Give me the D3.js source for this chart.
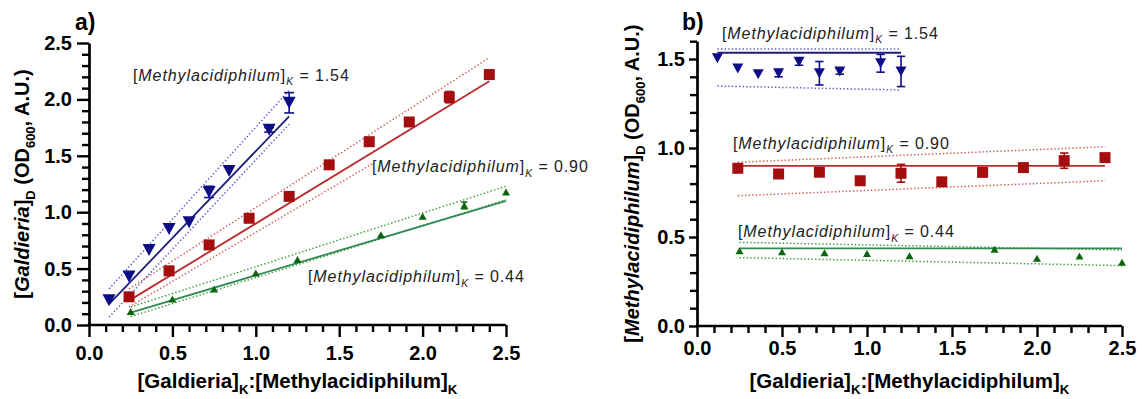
<!DOCTYPE html>
<html><head><meta charset="utf-8">
<script src="https://cdn.jsdelivr.net/npm/d3@7"></script>
<style>
body{margin:0;background:#fff;}
svg{display:block;font-family:"Liberation Sans",Arial,sans-serif;}
</style></head><body>
<svg id="chart" width="1142" height="399"></svg>
<script>
// Galdieria : Methylacidiphilum inoculation ratios for each Methylacidiphilum level
const ratioBlue  = [0.12, 0.24, 0.36, 0.48, 0.60, 0.72, 0.84, 1.08, 1.20];
const ratioRed   = [0.24, 0.48, 0.72, 0.96, 1.20, 1.44, 1.68, 1.92, 2.16, 2.40];
const ratioGreen = [0.25, 0.50, 0.75, 1.00, 1.25, 1.75, 2.00, 2.25, 2.50];

// a) Galdieria density at day D
const galBlue     = [0.22, 0.43, 0.665, 0.85, 0.91, 1.18, 1.365, 1.73, 1.97];
const galBlueErr  = [0, 0, 0, 0, 0, 0.05, 0, 0.02, 0.09];
const galRed      = [0.25, 0.48, 0.71, 0.946, 1.14, 1.42, 1.625, 1.80, 2.02, 2.22];
const galRedErr   = [0, 0, 0, 0, 0.03, 0, 0, 0.02, 0.05, 0.04];
const galGreen    = [0.12, 0.23, 0.32, 0.46, 0.58, 0.80, 0.965, 1.06, 1.18];
const galGreenErr = [0, 0, 0, 0, 0, 0, 0, 0.03, 0];

// b) Methylacidiphilum density at day D
const metBlue     = [1.504, 1.447, 1.414, 1.42, 1.485, 1.42, 1.43, 1.476, 1.43];
const metBlueErr  = [0, 0, 0, 0.02, 0.02, 0.066, 0.015, 0.05, 0.085];
const metRed      = [0.886, 0.854, 0.864, 0.816, 0.858, 0.81, 0.863, 0.89, 0.929, 0.946];
const metRedErr   = [0, 0, 0, 0, 0.05, 0.02, 0, 0.015, 0.043, 0];
const metGreen    = [0.423, 0.417, 0.412, 0.408, 0.395, 0.431, 0.38, 0.393, 0.358];
const metGreenErr = [0, 0, 0, 0, 0, 0, 0, 0, 0];

// model line (fit) and band (hi / lo) segments: [x0, y0, x1, y1]
const lineBlueA  = {fit: [0.12, 0.185, 1.20, 1.85], hi: [0.12, 0.32, 1.20, 2.08], lo: [0.12, 0.07, 1.20, 1.78]};
const lineRedA   = {fit: [0.24, 0.216, 2.40, 2.16], hi: [0.24, 0.32, 2.40, 2.37], lo: [0.24, 0.16, 1.70, 1.43]};
const lineGreenA = {fit: [0.25, 0.11, 2.50, 1.10],  hi: [0.25, 0.16, 2.50, 1.23], lo: [0.25, 0.075, 2.50, 1.11]};
const lineBlueB  = {fit: [0.12, 1.535, 1.20, 1.535], hi: [0.12, 1.556, 1.20, 1.556], lo: [0.12, 1.348, 1.20, 1.326]};
const lineRedB   = {fit: [0.24, 0.90, 2.40, 0.90],   hi: [0.24, 0.92, 2.40, 1.007],  lo: [0.24, 0.732, 2.40, 0.816]};
const lineGreenB = {fit: [0.25, 0.436, 2.50, 0.436], hi: [0.25, 0.47, 2.50, 0.427],  lo: [0.25, 0.384, 2.50, 0.339]};

const kLabels = ["1.54", "0.90", "0.44"];
const xTicks = [0, 0.5, 1.0, 1.5, 2.0, 2.5];
const yTicksA = [0, 0.5, 1.0, 1.5, 2.0, 2.5];
const yTicksB = [0, 0.5, 1.0, 1.5];

const svg = d3.select("#chart");

const style = {
  blue:  {mark: "#0d0d86", line: "#1e1e7c", band: "#5c5cc8", shape: "down"},
  red:   {mark: "#a30f0f", line: "#bb2b2b", band: "#d15a5a", shape: "square"},
  green: {mark: "#0c650c", line: "#2f8a52", band: "#3c9a3c", shape: "up"}
};

function rich(text, parts, size) {
  const sub = size * 0.65, shift = size * 0.3;
  let down = false;
  parts.forEach(p => {
    const ts = text.append("tspan").text(p.t);
    if (p.i) ts.attr("font-style", "italic");
    if (p.sub) {
      ts.attr("font-size", sub).attr("dy", down ? 0 : shift);
      down = true;
    } else {
      ts.attr("dy", down ? -shift : 0);
      down = false;
    }
  });
}

function markerPath(shape, w, h) {
  const p = d3.path();
  if (shape === "down") {
    p.moveTo(-w / 2, -h / 2); p.lineTo(w / 2, -h / 2); p.lineTo(0, h / 2); p.closePath();
  } else if (shape === "up") {
    p.moveTo(-w / 2, h / 2); p.lineTo(w / 2, h / 2); p.lineTo(0, -h / 2); p.closePath();
  } else {
    p.rect(-w / 2, -h / 2, w, h);
  }
  return p.toString();
}

function drawPanel(cfg) {
  const g = svg.append("g");
  const x = d3.scaleLinear().domain([0, 2.5]).range(cfg.xRange);
  const y = d3.scaleLinear().domain([0, cfg.yMax]).range(cfg.yRange);

  // model lines and bands
  cfg.series.forEach(s => {
    const st = style[s.key];
    const L = s.line;
    [["hi", true], ["lo", true], ["fit", false]].forEach(([k, dotted]) => {
      const seg = L[k];
      g.append("line")
        .attr("x1", x(seg[0])).attr("y1", y(seg[1]))
        .attr("x2", x(seg[2])).attr("y2", y(seg[3]))
        .attr("stroke", dotted ? st.band : st.line)
        .attr("stroke-width", dotted ? 1.5 : 1.8)
        .attr("stroke-dasharray", dotted ? "1.4,2.2" : null);
    });
  });

  // error bars and markers
  cfg.series.forEach(s => {
    const st = style[s.key];
    const pts = s.x.map((v, i) => ({x: v, y: s.y[i], e: s.err[i]}));
    const eg = g.append("g").attr("stroke", st.mark).attr("stroke-width", 1.6);
    pts.filter(d => d.e > 0).forEach(d => {
      const cx = x(d.x), cw = s.w * 0.38;
      eg.append("line").attr("x1", cx).attr("x2", cx).attr("y1", y(d.y - d.e)).attr("y2", y(d.y + d.e));
      eg.append("line").attr("x1", cx - cw).attr("x2", cx + cw).attr("y1", y(d.y + d.e)).attr("y2", y(d.y + d.e));
      eg.append("line").attr("x1", cx - cw).attr("x2", cx + cw).attr("y1", y(d.y - d.e)).attr("y2", y(d.y - d.e));
    });
    g.append("g").selectAll("path").data(pts).join("path")
      .attr("d", markerPath(st.shape, s.w, s.h))
      .attr("transform", d => `translate(${x(d.x)},${y(d.y)})`)
      .attr("fill", st.mark);
  });

  // axes
  const yMinor = d3.range(1, Math.round(cfg.yMax * 10) + 1).map(v => v / 10).filter(v => Math.abs(v * 2 - Math.round(v * 2)) > 1e-6);
  const xMinor = d3.range(1, 26).map(v => v / 10).filter(v => Math.abs(v * 2 - Math.round(v * 2)) > 1e-6);
  const fmt = d3.format(".1f");

  const ya = g.append("g").attr("transform", `translate(${x(0)},0)`)
    .call(d3.axisLeft(y).tickValues(cfg.yTicks).tickFormat(fmt).tickSize(cfg.yMajor).tickSizeOuter(0).tickPadding(cfg.yPad));
  const ym = g.append("g").attr("transform", `translate(${x(0)},0)`)
    .call(d3.axisLeft(y).tickValues(yMinor).tickFormat("").tickSize(cfg.yMinorLen).tickSizeOuter(0));
  const xa = g.append("g").attr("transform", `translate(0,${y(0)})`)
    .call(d3.axisBottom(x).tickValues(xTicks).tickFormat(fmt).tickSize(cfg.xMajor).tickSizeOuter(0).tickPadding(cfg.xPad));
  const xm = g.append("g").attr("transform", `translate(0,${y(0)})`)
    .call(d3.axisBottom(x).tickValues(xMinor).tickFormat("").tickSize(cfg.xMinorLen).tickSizeOuter(0));
  [ya, ym, xa, xm].forEach(a => {
    a.selectAll("path.domain").attr("stroke", "#000").attr("stroke-width", 2.7);
    a.selectAll(".tick line").attr("stroke", "#000").attr("stroke-width", 2.4);
    a.selectAll(".tick text").attr("fill", "#000").attr("font-size", 20).attr("font-weight", "bold")
      .attr("font-family", "'Liberation Sans', Arial, sans-serif");
  });
  ym.select("path.domain").remove();
  xm.select("path.domain").remove();
  // horizontal axis line runs from the vertical axis across the full range
  xa.select("path.domain").attr("d", `M${x(0) - 1.3},0H${x(2.5)}`);

  // axis titles
  const xt = g.append("text")
    .attr("x", (cfg.xRange[0] + cfg.xRange[1]) / 2).attr("y", cfg.xTitleY)
    .attr("text-anchor", "middle").attr("font-size", 20.5).attr("font-weight", "bold").attr("fill", "#000");
  rich(xt, [{t: "[Galdieria]"}, {t: "K", sub: true}, {t: ":[Methylacidiphilum]"}, {t: "K", sub: true}], 20.5);

  const yt = g.append("text")
    .attr("transform", `translate(${cfg.yTitleX},${(cfg.yRange[0] + cfg.yRange[1]) / 2}) rotate(-90)`)
    .attr("text-anchor", "middle").attr("font-size", 20).attr("font-weight", "bold").attr("fill", "#000");
  rich(yt, [{t: "["}, {t: cfg.yName, i: true}, {t: "]"}, {t: "D", sub: true}, {t: " (OD"}, {t: "600", sub: true}, {t: ", A.U.)"}], 20);

  // panel letter
  g.append("text").attr("x", cfg.letterPos[0]).attr("y", cfg.letterPos[1])
    .attr("font-size", 23).attr("font-weight", "bold").attr("fill", "#000").text(cfg.letter);

  // series annotations
  cfg.series.forEach((s, i) => {
    const t = g.append("text").attr("x", cfg.labelPos[i][0]).attr("y", cfg.labelPos[i][1])
      .attr("font-size", 16).attr("fill", "#222").attr("letter-spacing", 0.9);
    rich(t, [{t: "["}, {t: "Methylacidiphilum", i: true}, {t: "]"}, {t: "K", sub: true, i: true}, {t: " = " + kLabels[i]}], 16);
  });
}

drawPanel({
  letter: "a)", letterPos: [75, 30],
  xRange: [89, 506], yRange: [325, 43], yMax: 2.5, yTicks: yTicksA,
  yMajor: 12, yMinorLen: 7, yPad: 5, xMajor: 12, xMinorLen: 7, xPad: 9,
  xTitleY: 388, yTitleX: 29, yName: "Galdieria",
  labelPos: [[133, 80.5], [372, 172], [308, 282]],
  series: [
    {key: "blue", x: ratioBlue, y: galBlue, err: galBlueErr, line: lineBlueA, w: 13, h: 12},
    {key: "red", x: ratioRed, y: galRed, err: galRedErr, line: lineRedA, w: 11, h: 11},
    {key: "green", x: ratioGreen, y: galGreen, err: galGreenErr, line: lineGreenA, w: 8, h: 7}
  ]
});

drawPanel({
  letter: "b)", letterPos: [682, 30],
  xRange: [697, 1122], yRange: [326, 41.2], yMax: 1.6, yTicks: yTicksB,
  yMajor: 8, yMinorLen: 7, yPad: 4, xMajor: 11, xMinorLen: 7, xPad: 4,
  xTitleY: 388, yTitleX: 639, yName: "Methylacidiphilum",
  labelPos: [[722, 38.5], [733, 148.5], [738, 237]],
  series: [
    {key: "blue", x: ratioBlue, y: metBlue, err: metBlueErr, line: lineBlueB, w: 11, h: 10},
    {key: "red", x: ratioRed, y: metRed, err: metRedErr, line: lineRedB, w: 11, h: 11},
    {key: "green", x: ratioGreen, y: metGreen, err: metGreenErr, line: lineGreenB, w: 8, h: 7}
  ]
});
</script></body></html>
